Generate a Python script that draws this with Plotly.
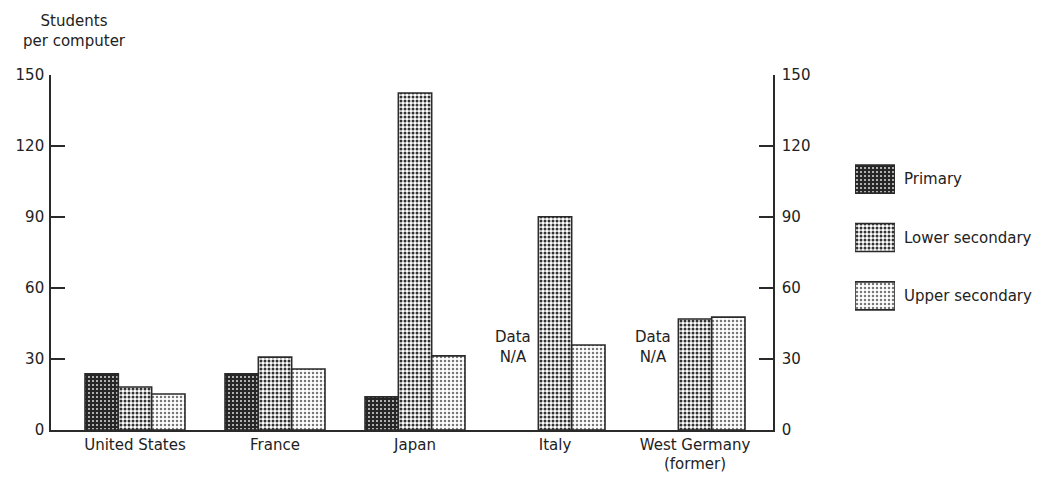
import plotly.graph_objects as go

countries = ["United States", "France", "Japan", "Italy", "West Germany<br>(former)"]
primary = [23.7, 23.7, 14.0, None, None]
lower_secondary = [18.2, 30.8, 142.4, 90.1, 46.9]
upper_secondary = [15.2, 25.8, 31.3, 35.9, 47.7]
series_names = ["Primary", "Lower secondary", "Upper secondary"]
y_ticks = [0, 30, 60, 90, 120, 150]
na_countries = ["Italy", "West Germany<br>(former)"]
na_level = 35

# the page body adds an 8px margin, so the figure is drawn 8px smaller and shifted
OFF = 8
W, H = 1058 - OFF, 478 - OFF


def fx(px):
    return (px - OFF) / W


def fy(py):
    return 1 - (py - OFF) / H


FONT = dict(family="DejaVu Sans, Liberation Sans, Arial", size=15, color="#222")
INK = "#2a2a2a"

patterns = [
    dict(shape=".", bgcolor="#262626", fgcolor="#dddddd", size=4, solidity=0.2),
    dict(shape=".", bgcolor="#ffffff", fgcolor="#333333", size=4, solidity=0.45),
    dict(shape=".", bgcolor="#ffffff", fgcolor="#777777", size=4, solidity=0.3),
]

fig = go.Figure()
for name, vals, pat in zip(series_names, [primary, lower_secondary, upper_secondary], patterns):
    fig.add_trace(go.Bar(
        x=countries, y=vals, name=name, showlegend=False,
        marker=dict(pattern=pat, line=dict(color=INK, width=1.6)),
        xaxis="x", yaxis="y",
    ))

# invisible trace to carry the right-hand axis
fig.add_trace(go.Scatter(x=[countries[0]], y=[0], mode="markers", marker=dict(opacity=0),
                         showlegend=False, hoverinfo="skip", xaxis="x", yaxis="y2"))

# legend swatches drawn as one bar trace on its own small axes
fig.add_trace(go.Bar(
    x=[1, 1, 1], y=series_names, orientation="h", width=0.48, showlegend=False,
    marker=dict(
        pattern=dict(
            shape=[p["shape"] for p in patterns],
            bgcolor=[p["bgcolor"] for p in patterns],
            fgcolor=[p["fgcolor"] for p in patterns],
            size=[p["size"] for p in patterns],
            solidity=[p["solidity"] for p in patterns],
        ),
        line=dict(color=INK, width=1.6),
    ),
    xaxis="x3", yaxis="y3", hoverinfo="skip",
))

xd = [fx(51), fx(773)]
yd = [fy(430), fy(75)]

for c in na_countries:
    fig.add_annotation(x=c, y=na_level, xref="x", yref="y", text="Data<br>N/A",
                       showarrow=False, xshift=-42, font=FONT, align="center")

fig.add_annotation(x=fx(74), y=fy(10), xref="paper", yref="paper",
                   text="Students<br>per computer", showarrow=False,
                   xanchor="center", yanchor="top", align="center", font=FONT)

yaxis_common = dict(
    range=[0, 150], tickvals=y_ticks, ticks="inside", ticklen=14, tickwidth=1.5,
    tickcolor=INK, showline=True, linecolor=INK, linewidth=1.6, showgrid=False,
    zeroline=False, domain=yd, automargin=False, tickfont=FONT, fixedrange=True,
)

fig.update_layout(
    width=W, height=H, template="none",
    paper_bgcolor="white", plot_bgcolor="rgba(0,0,0,0)",
    margin=dict(l=0, r=0, t=0, b=0),
    barmode="group", bargap=0.286, bargroupgap=0,
    font=FONT,
    xaxis=dict(type="category", domain=xd, range=[-0.6, 4.557], showline=True,
               linecolor=INK, linewidth=1.6, ticks="", showgrid=False, zeroline=False,
               anchor="y", automargin=False, tickfont=FONT, categoryorder="array",
               categoryarray=countries),
    yaxis=dict(**yaxis_common, anchor="x", side="left", ticklabelstandoff=2),
    yaxis2=dict(**yaxis_common, anchor="x", side="right", overlaying="y", ticklabelstandoff=4),
    xaxis3=dict(domain=[fx(855), fx(895)], range=[0, 1], visible=False, anchor="y3",
                fixedrange=True),
    yaxis3=dict(domain=[fy(325), fy(150)], anchor="x3", side="right",
                autorange="reversed", type="category", showline=False, ticks="",
                showgrid=False, zeroline=False, automargin=False, tickfont=FONT,
                ticklabelstandoff=8, fixedrange=True),
)

fig.write_html("out.html")
